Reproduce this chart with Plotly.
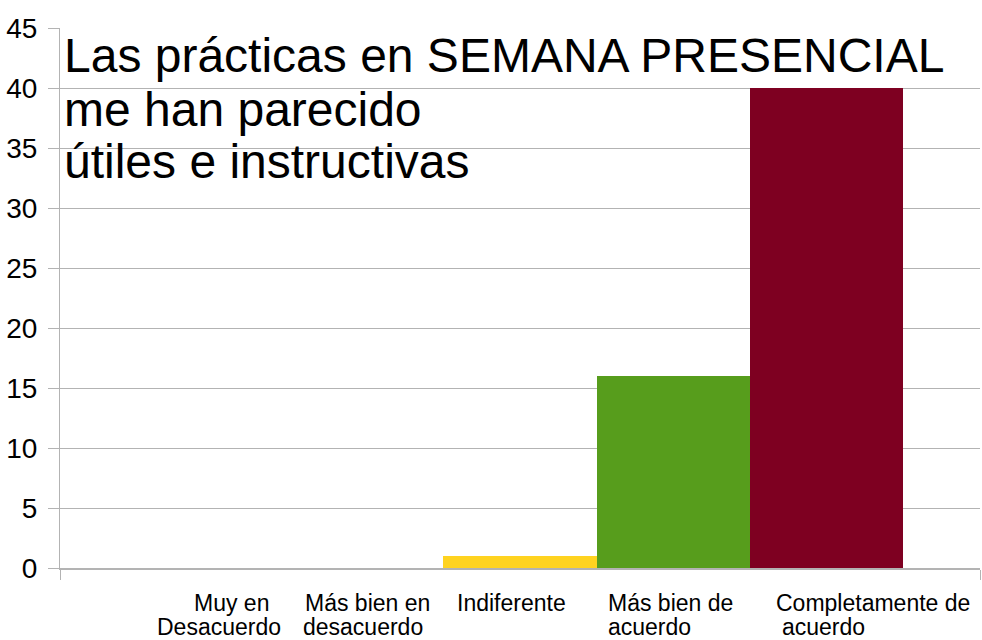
import plotly.graph_objects as go

# ---- data ----
categories = ["Muy en Desacuerdo", "Más bien en desacuerdo", "Indiferente",
              "Más bien de acuerdo", "Completamente de acuerdo"]
values = [0, 0, 1, 16, 40]
label_line1 = ["Muy en", "Más bien en", "Indiferente", "Más bien de", "Completamente de"]
label_line2 = ["Desacuerdo", "desacuerdo", "", "acuerdo", "acuerdo"]
title_lines = ["Las prácticas en SEMANA PRESENCIAL", "me han parecido", "útiles e instructivas"]
y_ticks = [0, 5, 10, 15, 20, 25, 30, 35, 40, 45]

# ---- styles ----
colors = ["#004586", "#ff420e", "#ffd320", "#579d1c", "#7e0021"]
grid = "#b3b3b3"
W, H = 982, 640
L, R, T, B = 60, 2, 28, 72
PW, PH = W - L - R, H - T - B

def px_x(p):
    return (p - L) / PW

def px_y(p):
    return (H - B - p) / PH

label_x1 = [192, 303, 455, 606, 774]
label_x2 = [155, 301, 455, 606, 780]
title_cy = [56, 109, 162]
label_font = dict(family="Liberation Sans, Arial", size=23, color="black")

fig = go.Figure()
fig.add_trace(go.Bar(
    x=list(range(len(categories))), y=values, width=1,
    marker=dict(color=colors, line=dict(width=0)),
    hovertext=categories, showlegend=False,
))

annotations = []
for i in range(len(categories)):
    annotations.append(dict(text=label_line1[i], x=px_x(label_x1[i]), y=px_y(603),
                            xref="paper", yref="paper", xanchor="left", yanchor="middle",
                            showarrow=False, font=label_font))
    if label_line2[i]:
        annotations.append(dict(text=label_line2[i], x=px_x(label_x2[i]), y=px_y(627),
                                xref="paper", yref="paper", xanchor="left", yanchor="middle",
                                showarrow=False, font=label_font))
for t, cy in zip(title_lines, title_cy):
    annotations.append(dict(text=t, x=px_x(62), y=px_y(cy), xref="paper", yref="paper",
                            xanchor="left", yanchor="middle", showarrow=False,
                            font=dict(family="Liberation Sans, Arial", size=48, color="black")))

fig.update_layout(
    width=W, height=H,
    margin=dict(l=L, r=R, t=T, b=B, pad=0),
    paper_bgcolor="white", plot_bgcolor="white",
    bargap=0,
    annotations=annotations,
    xaxis=dict(range=[-1, 5], showgrid=False, zeroline=False,
               tickvals=[-1, 5], ticks="outside", ticklen=10, tickcolor=grid, tickwidth=1,
               showticklabels=False, showline=True, linecolor=grid, linewidth=2),
    yaxis=dict(range=[0, 45], tickvals=y_ticks, ticktext=[str(v) for v in y_ticks],
               showgrid=True, gridcolor=grid, gridwidth=1, zeroline=False,
               ticks="outside", ticklen=11, tickcolor=grid, tickwidth=1,
               showline=True, linecolor=grid, linewidth=1,
               ticklabelstandoff=5,
               tickfont=dict(family="Liberation Sans Narrow, Arial Narrow, Liberation Sans", size=28, color="black")),
)

html = fig.to_html(full_html=True, include_plotlyjs=True, config={"displayModeBar": False})
html = html.replace("<head>", "<head><style>html,body{margin:0;padding:0;overflow:hidden;}</style>", 1)
with open("out.html", "w", encoding="utf-8") as f:
    f.write(html)
